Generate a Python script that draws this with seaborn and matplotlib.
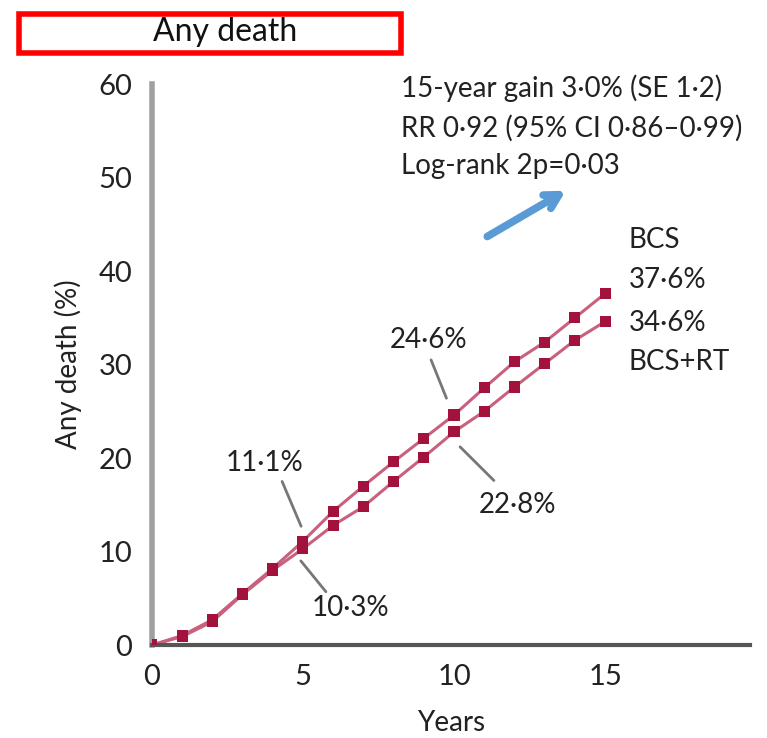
import matplotlib
matplotlib.use("Agg")
import matplotlib.pyplot as plt
from matplotlib.patches import Rectangle
import pandas as pd
import seaborn as sns

# Données
annees = list(range(0, 16))
bcs = [0.0, 1.0, 2.7, 5.5, 8.2, 11.1, 14.3, 17.0, 19.6, 22.1, 24.6,
       27.5, 30.3, 32.4, 35.0, 37.6]
bcs_rt = [0.0, 0.9, 2.5, 5.4, 8.0, 10.3, 12.8, 14.8, 17.5, 20.1, 22.8,
          25.0, 27.6, 30.1, 32.6, 34.6]
groupes = ["BCS", "BCS+RT"]
yticks = [0, 10, 20, 30, 40, 50, 60]
xticks = [0, 5, 10, 15]

df = pd.DataFrame({
    "annee": annees * 2,
    "deces": bcs + bcs_rt,
    "groupe": [groupes[0]] * len(annees) + [groupes[1]] * len(annees),
})

sns.set_style("white")
plt.rcParams["font.family"] = ["Lato", "DejaVu Sans"]

fig = plt.figure(figsize=(7.67, 7.38), dpi=100)
ax = fig.add_axes([0.198, 0.126, 0.780, 0.760])

ligne = "#c9607e"
point = "#a3123c"
sns.lineplot(data=df, x="annee", y="deces", hue="groupe",
             palette=[ligne, ligne], linewidth=2.2, legend=False, ax=ax)
sns.scatterplot(data=df, x="annee", y="deces", hue="groupe",
                palette=[point, point], marker="s", s=64, linewidth=0,
                legend=False, ax=ax, zorder=3)

ax.set_xlim(0, 19.8)
ax.set_ylim(0, 60)
ax.set_xticks(xticks)
ax.set_yticks(yticks)
ax.tick_params(axis="y", length=11, width=2.5, color="#707070",
               labelsize=21, pad=3)
ax.tick_params(axis="x", length=12, width=2.5, color="#a0a0a0",
               labelsize=21, pad=2)
for lab in ax.get_xticklabels() + ax.get_yticklabels():
    lab.set_color("#222222")

ax.spines["top"].set_visible(False)
ax.spines["right"].set_visible(False)
ax.spines["left"].set_color("#a0a0a0")
ax.spines["left"].set_linewidth(4)
ax.spines["bottom"].set_color("#555555")
ax.spines["bottom"].set_linewidth(3)

ax.set_xlabel("Years", fontsize=20, color="#222222", labelpad=14)
ax.set_ylabel("Any death (%)", fontsize=20, color="#222222", labelpad=12)

# Annotations
txt = dict(fontsize=20, color="#222222")
ax.text(8.24, 59.6, "15-year gain 3·0% (SE 1·2)", va="center", **txt)
ax.text(8.24, 55.3, "RR 0·92 (95% CI 0·86–0·99)", va="center", **txt)
ax.text(8.24, 51.2, "Log-rank 2p=0·03", va="center", **txt)
ax.annotate("", xy=(13.7, 48.6), xytext=(11.1, 43.7),
            arrowprops=dict(arrowstyle="->,head_length=1.0,head_width=0.55",
                            color="#5b9bd5", lw=5.5, capstyle="round",
                            joinstyle="round", shrinkA=0, shrinkB=0))

ax.text(15.78, 43.3, "BCS", va="center", **txt)
ax.text(15.78, 39.0, "37·6%", va="center", **txt)
ax.text(15.78, 34.5, "34·6%", va="center", **txt)
ax.text(15.78, 30.3, "BCS+RT", va="center", **txt)

gris = "#777777"
ax.text(2.43, 19.5, "11·1%", va="center", **txt)
ax.plot([4.31, 4.94], [17.5, 12.7], color=gris, lw=2)
ax.text(5.3, 3.95, "10·3%", va="center", **txt)
ax.plot([4.93, 5.76], [9.0, 5.7], color=gris, lw=2)
ax.text(7.87, 32.6, "24·6%", va="center", **txt)
ax.plot([9.24, 9.75], [30.5, 26.4], color=gris, lw=2)
ax.text(10.83, 15.0, "22·8%", va="center", **txt)
ax.plot([10.2, 11.32], [21.2, 17.6], color=gris, lw=2)

# Cadre du titre
fig.patches.append(Rectangle((19 / 767, 1 - 53 / 738), 382 / 767, 39 / 738,
                             transform=fig.transFigure, fill=False,
                             edgecolor="#ff0000", linewidth=4))
fig.text(225 / 767, 1 - 32 / 738, "Any death", ha="center", va="center",
         fontsize=23, color="#111111")

fig.savefig("out.png", dpi=100)
